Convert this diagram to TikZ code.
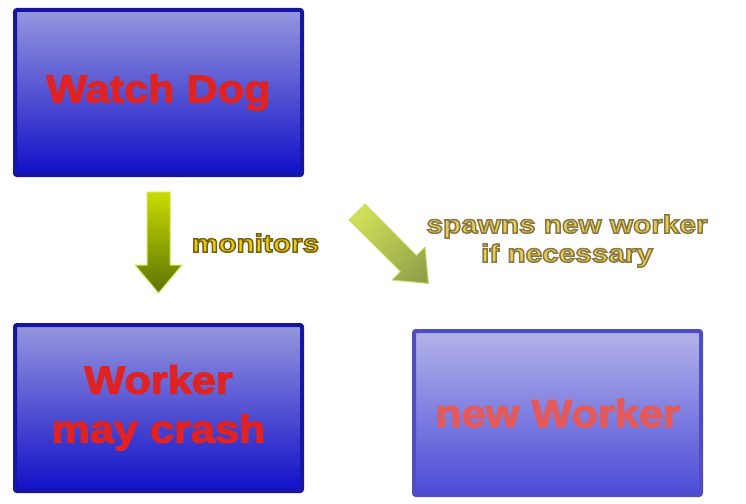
\documentclass[tikz,border=0pt]{standalone}
\usepackage{fontspec}
\usetikzlibrary{shadings}
\newfontfamily\boxfont{Liberation Sans Bold}[FakeStretch=1.11,FakeBold=3]
\newfontfamily\lblfont{Liberation Sans Bold}[FakeStretch=1.19,FakeBold=6]
\definecolor{wdtop}{HTML}{9696DE}
\definecolor{wdbot}{HTML}{1010C8}
\definecolor{wdedge}{HTML}{1616A0}
\definecolor{nwtop}{HTML}{B3B3E9}
\definecolor{nwbot}{HTML}{4B4BD8}
\definecolor{nwedge}{HTML}{4E4EC0}
\definecolor{boxred}{HTML}{E02222}
\definecolor{nwred}{HTML}{E45A5A}
\definecolor{arrtop}{HTML}{C8DC00}
\definecolor{arrbot}{HTML}{5C7200}
\definecolor{arredge}{HTML}{D5E45A}
\definecolor{diagul}{HTML}{D9E85C}
\definecolor{diagmid}{HTML}{B4C450}
\definecolor{diaglr}{HTML}{8C9A48}
\definecolor{diagedge}{HTML}{C9D864}
\definecolor{monfill}{HTML}{E8CA10}
\definecolor{spfill}{HTML}{E6CC5C}
\newcommand\strokergb[1]{\special{pdf:literal direct #1 RG}}
\begin{document}
\begin{tikzpicture}[x=1pt,y=-1pt,
  bigbox/.style={line width=4pt, rounded corners=2pt, minimum width=287pt,
    minimum height=165pt, inner sep=0pt, align=center,
    font=\boxfont\fontsize{39}{49}\selectfont},
  darkbox/.style={bigbox, top color=wdtop, bottom color=wdbot, draw=wdedge, text=boxred},
  lightbox/.style={bigbox, top color=nwtop, bottom color=nwbot, draw=nwedge, text=nwred},
  lbl/.style={inner sep=0pt, align=center, font=\lblfont\fontsize{25}{29}\selectfont},
  blockarrow/.style={line width=1pt, line join=round}
]
\useasboundingbox (0,0) rectangle (746,503);

\node[darkbox] (watchdog) at (158.5,92.5) {Watch Dog};
\node[darkbox, minimum height=166pt] (worker) at (158.5,408) {Worker\\may crash};
\node[lightbox, minimum height=164pt] (newworker) at (557.5,413) {new Worker};

% down arrow (monitors)
\path[blockarrow, top color=arrtop, bottom color=arrbot, draw=arredge]
  (147,192) -- (170,192) -- (170,265) -- (182,265) -- (158.5,293)
  -- (135,265) -- (147,265) -- cycle;
% diagonal arrow (spawns)
\path[blockarrow, upper left=diagul, upper right=diagmid, lower left=diagmid,
  lower right=diaglr, draw=diagedge]
  (365,204) -- (416.5,255.5) -- (425,247) -- (428.4,283.4) -- (392,280)
  -- (400.5,271.5) -- (349,220) -- cycle;

\node[lbl, text=monfill, anchor=base] (monitors) at (255.5,252)
  {\strokergb{0.45 0.38 0.05}monitors};
\node[lbl, text=spfill, anchor=base] (spawns) at (567,262)
  {\strokergb{0.54 0.47 0.25}spawns new worker\\if necessary};
\end{tikzpicture}
\end{document}
